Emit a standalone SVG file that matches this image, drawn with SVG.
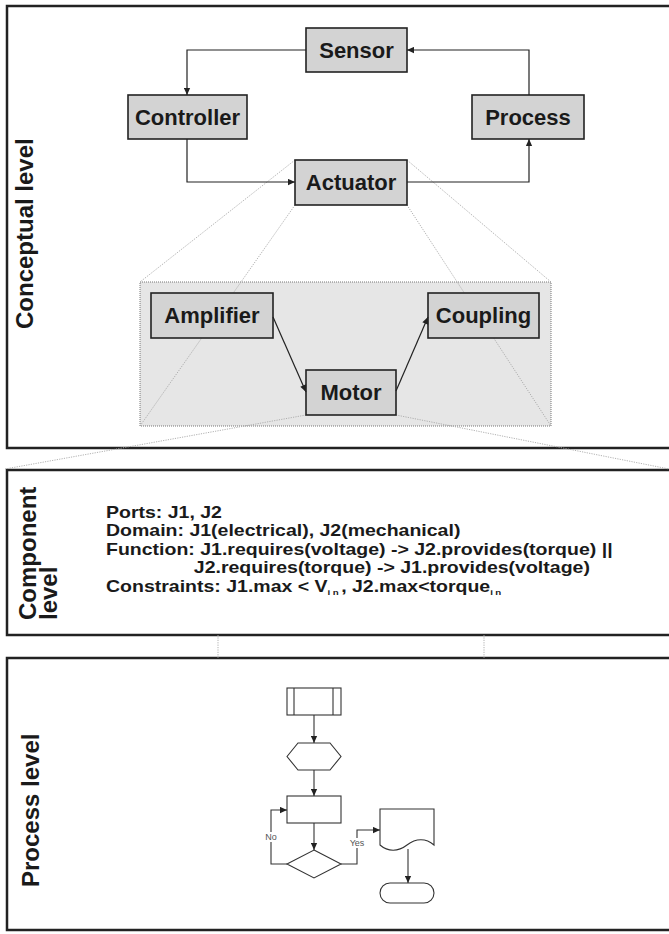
<svg xmlns="http://www.w3.org/2000/svg" width="669" height="934" viewBox="0 0 669 934">
<style>
.panel{fill:#fff;stroke:#222;stroke-width:2.5}
.node{fill:#d3d3d3;stroke:#222;stroke-width:1.6}
.ntext{font-family:"Liberation Sans",Arial,sans-serif;font-weight:bold;font-size:22px;fill:#1a1a1a;text-anchor:middle}
.ltext{font-family:"Liberation Sans",Arial,sans-serif;font-weight:bold;font-size:24px;fill:#1a1a1a}
.ctext{font-family:"Liberation Sans",Arial,sans-serif;font-weight:bold;font-size:16px;fill:#1a1a1a}
.conn{fill:none;stroke:#222;stroke-width:1.2}
.proj{fill:none;stroke:#a8a8a8;stroke-width:0.9;stroke-dasharray:1.2 1.2}
.fc{fill:#fff;stroke:#333;stroke-width:1.1}
.fconn{fill:none;stroke:#333;stroke-width:1.1}
.small{font-family:"Liberation Sans",Arial,sans-serif;font-size:9px;fill:#555;text-anchor:middle}
</style>
<defs>
<marker id="ah" viewBox="0 0 10 10" refX="10" refY="5" markerWidth="8" markerHeight="7" markerUnits="userSpaceOnUse" orient="auto"><path d="M0,0.5 L10,5 L0,9.5 z" fill="#222"/></marker>
</defs>

<g id="panel-conceptual">
<rect class="panel" x="7" y="6" width="672" height="442"/>
<text class="ltext" transform="translate(33,329) rotate(-90)">Conceptual level</text>
</g>
<g id="panel-component">
<rect class="panel" x="7" y="470" width="672" height="165"/>
<text class="ltext" font-size="23" transform="translate(36,620) rotate(-90)">Component</text>
<text class="ltext" font-size="23" transform="translate(57,620) rotate(-90)">level</text>
<g transform="translate(106,0) scale(1.22,1)">
<text class="ctext" x="0" y="518">Ports: J1, J2</text>
<text class="ctext" x="0" y="536.5">Domain: J1(electrical), J2(mechanical)</text>
<text class="ctext" x="0" y="555">Function: J1.requires(voltage) -&gt; J2.provides(torque) ||</text>
<text class="ctext" x="72" y="573.5">J2.requires(torque) -&gt; J1.provides(voltage)</text>
<text class="ctext" x="0" y="592">Constraints: J1.max &lt; V<tspan font-size="8" dy="3" letter-spacing="2">in</tspan><tspan dy="-3">, J2.max&lt;torque</tspan><tspan font-size="8" dy="3" letter-spacing="2">in</tspan></text>
</g>
</g>
<g id="panel-process">
<rect class="panel" x="7" y="658" width="672" height="272"/>
<text class="ltext" transform="translate(39,887) rotate(-90)">Process level</text>
</g>

<g id="actuator-detail">
<rect x="140" y="282" width="411" height="144" fill="#e6e6e6" stroke="#777" stroke-width="1" stroke-dasharray="1 1"/>
</g>

<g id="projections">
<line class="proj" x1="295" y1="160" x2="140" y2="282"/>
<line class="proj" x1="407" y1="160" x2="551" y2="282"/>
<line class="proj" x1="295" y1="205" x2="140" y2="426"/>
<line class="proj" x1="407" y1="205" x2="551" y2="426"/>
<line class="proj" x1="306" y1="415" x2="5" y2="469"/>
<line class="proj" x1="396" y1="415" x2="669" y2="469"/>
<line class="proj" x1="218" y1="635" x2="218" y2="658"/>
<line class="proj" x1="484" y1="635" x2="484" y2="658"/>
</g>

<g id="sensor"><rect class="node" x="306" y="28" width="101" height="44"/><text class="ntext" x="356.5" y="58">Sensor</text></g>
<g id="controller"><rect class="node" x="128" y="95" width="119" height="44"/><text class="ntext" x="187.5" y="125">Controller</text></g>
<g id="process"><rect class="node" x="472" y="95" width="112" height="44"/><text class="ntext" x="528" y="125">Process</text></g>
<g id="actuator"><rect class="node" x="295" y="160" width="112" height="45"/><text class="ntext" x="351" y="190">Actuator</text></g>
<g id="amplifier"><rect class="node" x="151" y="293" width="122" height="45"/><text class="ntext" x="212" y="323">Amplifier</text></g>
<g id="coupling"><rect class="node" x="428" y="293" width="111" height="45"/><text class="ntext" x="483.5" y="323">Coupling</text></g>
<g id="motor"><rect class="node" x="306" y="370" width="90" height="45"/><text class="ntext" x="351" y="400">Motor</text></g>

<g id="fc-start"><rect class="fc" x="287" y="688" width="54" height="27"/><line class="fconn" x1="294" y1="688" x2="294" y2="715"/><line class="fconn" x1="333" y1="688" x2="333" y2="715"/></g>
<g id="fc-prep"><polygon class="fc" points="287,756.5 298,743 330,743 341,756.5 330,770 298,770"/></g>
<g id="fc-process"><rect class="fc" x="287" y="796" width="54" height="27"/></g>
<g id="fc-decision"><polygon class="fc" points="314,850 341,864 314,878 287,864"/></g>
<g id="fc-document"><path class="fc" d="M380,809 H434 V845 C426,838 416,838 407,845 C398,852 388,852 380,845 Z"/></g>
<g id="fc-terminal"><rect class="fc" x="380" y="883" width="54" height="20" rx="10" ry="10"/></g>

<g id="connectors">
<path class="conn" d="M306,50 H187 V95" marker-end="url(#ah)"/>
<path class="conn" d="M187,139 V182 H295" marker-end="url(#ah)"/>
<path class="conn" d="M407,182 H529 V139" marker-end="url(#ah)"/>
<path class="conn" d="M529,95 V50 H407" marker-end="url(#ah)"/>
<path class="conn" d="M273,317 L306,392" marker-end="url(#ah)"/>
<path class="conn" d="M396,391 L428,317" marker-end="url(#ah)"/>
<path class="fconn" d="M314,715 V743" marker-end="url(#ah)"/>
<path class="fconn" d="M314,770 V796" marker-end="url(#ah)"/>
<path class="fconn" d="M314,823 V850" marker-end="url(#ah)"/>
<path class="fconn" d="M287,864 H271 V810 H287" marker-end="url(#ah)"/>
<path class="fconn" d="M341,864 H357 V830 H380" marker-end="url(#ah)"/>
<path class="fconn" d="M408,849 V883" marker-end="url(#ah)"/>
<rect x="265" y="832" width="12" height="10" fill="#fff"/>
<text class="small" x="271" y="840">No</text>
<rect x="350" y="838" width="14" height="10" fill="#fff"/>
<text class="small" x="357" y="846">Yes</text>
</g>
</svg>
